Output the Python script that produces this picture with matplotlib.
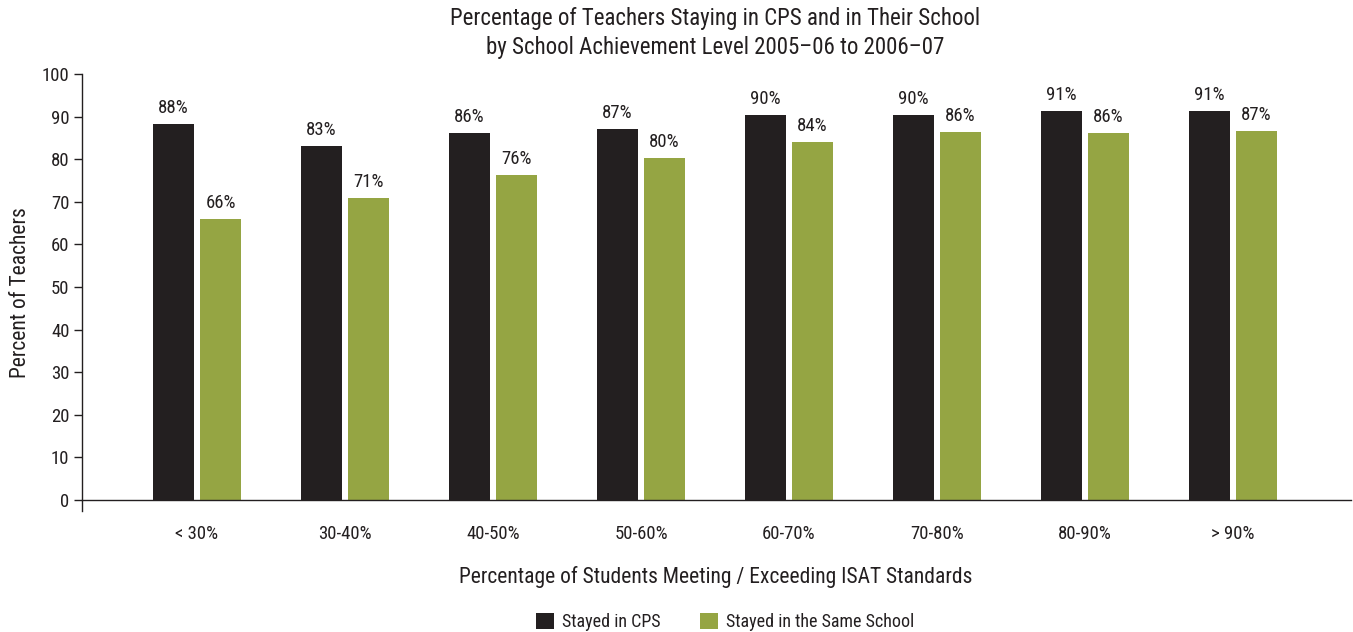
import matplotlib
matplotlib.use("Agg")
import matplotlib.pyplot as plt
import numpy as np

categories = ["< 30%", "30-40%", "40-50%", "50-60%", "60-70%", "70-80%", "80-90%", "> 90%"]
stayed_cps = [88.2, 83.0, 86.1, 87.0, 90.4, 90.4, 91.3, 91.4]
stayed_school = [65.9, 71.0, 76.4, 80.2, 84.0, 86.3, 86.1, 86.6]
series_names = ["Stayed in CPS", "Stayed in the Same School"]
yticks = list(range(0, 101, 10))

plt.rcParams['font.family'] = ['Roboto Condensed', 'DejaVu Sans']
c_black = "#231f20"
c_green = "#95a543"
txt = "#231f20"

fig = plt.figure(figsize=(13.53, 6.32), dpi=100)
ax = fig.add_axes([82/1353, 1-511/632, (1351-82)/1353, (511-74)/632])

x = np.arange(len(categories))
w = 0.277
off = 0.159
b1 = ax.bar(x - off, stayed_cps, w, color=c_black, label=series_names[0])
b2 = ax.bar(x + off, stayed_school, w, color=c_green, label=series_names[1])
for bars, vals in ((b1, stayed_cps), (b2, stayed_school)):
    for r, v in zip(bars, vals):
        ax.annotate(f"{round(v)}%", (r.get_x() + r.get_width()/2, v), xytext=(0, 5),
                    textcoords="offset points", ha="center", va="bottom", fontsize=13.5, color=txt)

ax.set_xlim(-0.777, len(categories) - 1 + 0.797)
ax.set_ylim(-2.6, 100)
ax.set_yticks(yticks)
ax.set_xticks(x)
ax.set_xticklabels(categories)
ax.spines['top'].set_visible(False)
ax.spines['right'].set_visible(False)
ax.spines['bottom'].set_position(('data', 0))
ax.spines['left'].set_bounds(-2.6, 100)
for s in ('left', 'bottom'):
    ax.spines[s].set_color(txt)
    ax.spines[s].set_linewidth(1.0)
ax.tick_params(axis='y', length=6, width=1, color=txt, labelsize=13.5, labelcolor=txt, pad=3)
ax.tick_params(axis='x', length=0, labelsize=13.5, labelcolor=txt, pad=18)

ax.set_ylabel("Percent of Teachers", fontsize=15.5, color=txt, labelpad=8)
fig.text(716/1353, 1-577/632, "Percentage of Students Meeting / Exceeding ISAT Standards",
         ha="center", va="center", fontsize=15.5, color=txt)
fig.text(715/1353, 1-33/632, "Percentage of Teachers Staying in CPS and in Their School\nby School Achievement Level 2005\u201306 to 2006\u201307",
         ha="center", va="center", fontsize=16.5, color=txt, linespacing=1.3)

leg = fig.legend(handles=[b1, b2], labels=series_names, loc="center", bbox_to_anchor=(725/1353, 1-622/632),
                 ncol=2, frameon=False, fontsize=13, handlelength=1.0, handleheight=1.0,
                 columnspacing=2.2, handletextpad=0.45, labelcolor=txt)

fig.savefig("out.png", dpi=100)
